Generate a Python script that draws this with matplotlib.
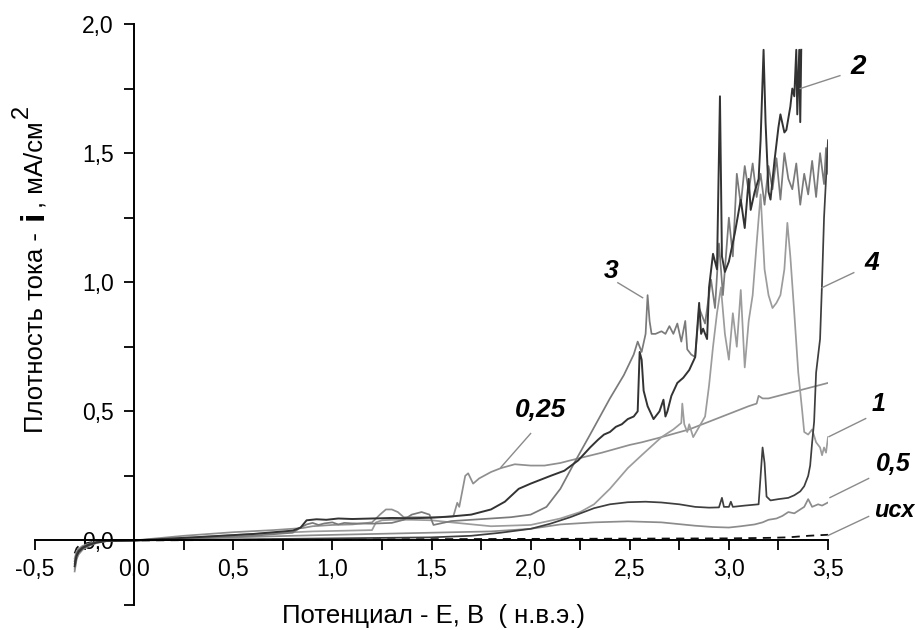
import matplotlib
matplotlib.use("Agg")
import matplotlib.pyplot as plt
from matplotlib.ticker import MultipleLocator, FuncFormatter

plt.rcParams['font.family'] = ['Liberation Sans', 'DejaVu Sans']

# ---- polarisation curves: potential E (V) and current density i (mA/cm2) ----
# cathodic start (E < 0) shared potentials
E_cath = [-0.30, -0.29, -0.28, -0.26, -0.23, -0.19, -0.14]

E_isx = E_cath + [0.0, 0.5, 1.0, 1.5, 2.0, 2.5, 3.0, 3.2, 3.3, 3.4, 3.45, 3.5]
i_isx = [-0.05, -0.03, -0.022, -0.015, -0.009, -0.004, -0.001,
         0.0, 0.002, 0.004, 0.005, 0.006, 0.007, 0.008, 0.010, 0.012, 0.018,
         0.020, 0.022]

E_05 = E_cath + [0.0, 0.3, 0.6, 0.9, 1.2, 1.5, 1.8, 2.0, 2.15, 2.32, 2.49, 2.66,
                 2.83, 2.92, 3.0, 3.06, 3.13, 3.17, 3.2, 3.24, 3.27, 3.3, 3.33,
                 3.36, 3.38, 3.40, 3.42, 3.45, 3.47, 3.5]
i_05 = [-0.12, -0.072, -0.054, -0.036, -0.022, -0.010, -0.003,
        0.0, 0.008, 0.014, 0.020, 0.025, 0.030, 0.035, 0.045, 0.062, 0.070,
        0.074, 0.070, 0.057, 0.052, 0.050, 0.055, 0.062, 0.070, 0.080, 0.085,
        0.095, 0.110, 0.105, 0.120, 0.130, 0.160, 0.130, 0.140, 0.135, 0.147]

E_025 = E_cath + [0.0, 0.25, 0.5, 0.7, 0.85, 0.9, 1.0, 1.1, 1.2, 1.24, 1.27, 1.3,
                  1.33, 1.36, 1.45, 1.55, 1.61, 1.63, 1.64, 1.67, 1.685, 1.71,
                  1.74, 1.8, 1.85, 1.92, 2.0, 2.07, 2.15, 2.2, 2.36, 2.5, 2.56,
                  2.66, 2.8, 2.9, 3.0, 3.1, 3.14, 3.15, 3.17, 3.2, 3.25, 3.3,
                  3.35, 3.4, 3.45, 3.5]
i_025 = [-0.11, -0.066, -0.050, -0.033, -0.020, -0.009, -0.002,
         0.0, 0.018, 0.032, 0.040, 0.048, 0.055, 0.060, 0.062, 0.070, 0.100,
         0.120, 0.120, 0.110, 0.090, 0.090, 0.090, 0.093, 0.146, 0.130, 0.250,
         0.260, 0.220, 0.240, 0.265, 0.280, 0.295, 0.290, 0.290, 0.300, 0.310,
         0.340, 0.370, 0.380, 0.400, 0.430, 0.460, 0.490, 0.520, 0.530, 0.560,
         0.550, 0.550, 0.560, 0.570, 0.580, 0.590, 0.600, 0.610]

E_1 = E_cath + [0.0, 0.3, 0.6, 0.9, 1.2, 1.22, 1.25, 1.3, 1.4, 1.5, 1.6, 1.8, 2.0,
                2.15, 2.25, 2.32, 2.4, 2.49, 2.56, 2.66, 2.72, 2.76, 2.765, 2.775,
                2.79, 2.80, 2.82, 2.85, 2.88, 2.90, 2.92, 2.94, 2.96, 2.98, 3.0,
                3.02, 3.04, 3.06, 3.08, 3.10, 3.12, 3.14, 3.16, 3.18, 3.20, 3.22,
                3.24, 3.26, 3.28, 3.295, 3.31, 3.33, 3.35, 3.37, 3.38, 3.40, 3.42,
                3.44, 3.46, 3.47, 3.48, 3.49, 3.5]
i_1 = [-0.07, -0.042, -0.032, -0.021, -0.013, -0.006, -0.001,
       0.0, 0.012, 0.025, 0.035, 0.040, 0.070, 0.078, 0.080, 0.080, 0.078, 0.070,
       0.055, 0.060, 0.085, 0.110, 0.140, 0.200, 0.280, 0.330, 0.400, 0.430,
       0.455, 0.530, 0.450, 0.420, 0.450, 0.400, 0.440, 0.480, 0.600, 0.750,
       0.880, 0.980, 0.800, 0.700, 0.880, 0.750, 0.970, 0.670, 0.850, 0.950,
       1.150, 1.340, 1.050, 0.950, 0.900, 0.920, 0.950, 1.050, 1.230, 1.100,
       0.880, 0.650, 0.500, 0.420, 0.410, 0.430, 0.380, 0.360, 0.330, 0.360,
       0.340, 0.400]

E_2 = E_cath + [0.0, 0.3, 0.6, 0.8, 0.84, 0.87, 0.92, 0.97, 1.03, 1.1, 1.2, 1.3,
                1.4, 1.5, 1.6, 1.7, 1.8, 1.87, 1.94, 2.0, 2.05, 2.1, 2.17, 2.24,
                2.3, 2.34, 2.37, 2.4, 2.43, 2.46, 2.49, 2.52, 2.54, 2.55, 2.56,
                2.57, 2.59, 2.62, 2.65, 2.67, 2.68, 2.69, 2.71, 2.74, 2.77, 2.80,
                2.83, 2.85, 2.86, 2.87, 2.89, 2.90, 2.92, 2.94, 2.955, 2.965, 2.98,
                3.00, 3.03, 3.06, 3.08, 3.10, 3.11, 3.13, 3.15, 3.16, 3.175, 3.185,
                3.20, 3.21, 3.23, 3.25, 3.26, 3.28, 3.29, 3.31, 3.32, 3.33, 3.34,
                3.345, 3.355, 3.36, 3.365]
i_2 = [-0.10, -0.060, -0.045, -0.030, -0.018, -0.008, -0.002,
       0.0, 0.012, 0.025, 0.038, 0.050, 0.078, 0.082, 0.080, 0.085, 0.083,
       0.085, 0.087, 0.086, 0.088, 0.093, 0.100, 0.120, 0.150, 0.200, 0.220,
       0.235, 0.250, 0.270, 0.310, 0.360, 0.390, 0.410, 0.420, 0.440, 0.450,
       0.470, 0.480, 0.500, 0.730, 0.700, 0.580, 0.520, 0.470, 0.500, 0.545,
       0.480, 0.500, 0.560, 0.610, 0.630, 0.660, 0.710, 0.920, 0.800, 0.820,
       0.780, 0.980, 1.110, 1.050, 1.720, 1.100, 1.040, 1.080, 1.190, 1.320,
       1.210, 1.400, 1.280, 1.350, 1.400, 1.550, 1.900, 1.620, 1.350, 1.320,
       1.470, 1.600, 1.650, 1.580, 1.590, 1.680, 1.750, 1.720, 1.900, 1.650,
       1.900, 1.620, 1.900]

E_3 = E_cath + [0.0, 0.3, 0.6, 0.8, 0.84, 0.87, 0.9, 0.93, 0.96, 1.0, 1.03, 1.06,
                1.1, 1.2, 1.3, 1.36, 1.4, 1.45, 1.49, 1.51, 1.54, 1.6, 1.7, 1.8,
                1.9, 2.0, 2.08, 2.15, 2.22, 2.3, 2.4, 2.47, 2.52, 2.54, 2.56, 2.58,
                2.59, 2.60, 2.61, 2.63, 2.66, 2.68, 2.70, 2.72, 2.74, 2.76, 2.78,
                2.79, 2.81, 2.83, 2.85, 2.88, 2.91, 2.93, 2.95, 2.97, 3.0, 3.02,
                3.04, 3.06, 3.08, 3.10, 3.12, 3.14, 3.16, 3.18, 3.2, 3.22, 3.24,
                3.26, 3.28, 3.30, 3.32, 3.34, 3.36, 3.38, 3.40, 3.42, 3.44, 3.46,
                3.48, 3.49, 3.5]
i_3 = [-0.08, -0.048, -0.036, -0.024, -0.014, -0.006, -0.002,
       0.0, 0.008, 0.018, 0.030, 0.050, 0.062, 0.068, 0.060, 0.066, 0.070,
       0.062, 0.068, 0.066, 0.065, 0.068, 0.080, 0.100, 0.110, 0.100, 0.060,
       0.065, 0.075, 0.080, 0.085, 0.090, 0.100, 0.130, 0.200, 0.300, 0.410,
       0.550, 0.640, 0.720, 0.770, 0.730, 0.800, 0.950, 0.850, 0.800, 0.800,
       0.810, 0.800, 0.830, 0.800, 0.840, 0.770, 0.850, 0.740, 0.720, 0.710,
       0.900, 0.840, 1.010, 0.900, 1.150, 0.950, 1.250, 1.100, 1.420, 1.300,
       1.450, 1.350, 1.460, 1.330, 1.420, 1.300, 1.450, 1.360, 1.480, 1.320,
       1.500, 1.400, 1.360, 1.460, 1.300, 1.420, 1.340, 1.470, 1.330, 1.500,
       1.380, 1.520, 1.420]

E_4 = E_cath + [0.0, 0.5, 1.0, 1.5, 1.7, 1.85, 2.0, 2.1, 2.2, 2.32, 2.4, 2.49,
                2.58, 2.66, 2.75, 2.83, 2.9, 2.95, 2.965, 2.975, 3.0, 3.01, 3.02,
                3.08, 3.15, 3.16, 3.17, 3.18, 3.19, 3.21, 3.25, 3.3, 3.33, 3.36,
                3.38, 3.40, 3.41, 3.42, 3.43, 3.44, 3.46, 3.47, 3.48, 3.49, 3.5]
i_4 = [-0.09, -0.055, -0.040, -0.027, -0.016, -0.007, -0.002,
       0.0, 0.004, 0.008, 0.012, 0.018, 0.030, 0.045, 0.065, 0.090, 0.125,
       0.140, 0.148, 0.150, 0.147, 0.140, 0.130, 0.127, 0.128, 0.165, 0.130,
       0.130, 0.150, 0.130, 0.135, 0.140, 0.250, 0.360, 0.300, 0.170, 0.155,
       0.160, 0.165, 0.175, 0.190, 0.210, 0.250, 0.290, 0.380, 0.460, 0.650,
       0.780, 1.000, 1.250, 1.400, 1.550]

fig = plt.figure(figsize=(9.15, 6.3), dpi=100)
W, H = 915, 630
ax = fig.add_axes([35 / W, 1 - 605 / H, 793 / W, 581 / H])
ax.set_xlim(-0.5, 3.5)
ax.set_ylim(-0.25, 2.0)

lw = 1.25
ax.plot(E_isx, i_isx, color='#111111', lw=1.3, ls=(0, (4.5, 3.5)))
ax.plot(E_05, i_05, color='#8c8c8c', lw=lw)
ax.plot(E_025, i_025, color='#8f8f8f', lw=lw)
ax.plot(E_1, i_1, color='#9c9c9c', lw=lw)
ax.plot(E_3, i_3, color='#7a7a7a', lw=lw)
ax.plot(E_4, i_4, color='#3e3e3e', lw=lw)
ax.plot(E_2, i_2, color='#333333', lw=1.4)

# axes crossing at the origin
for side in ('top', 'right'):
    ax.spines[side].set_visible(False)
ax.spines['left'].set_position(('data', 0))
ax.spines['bottom'].set_position(('data', 0))
for side in ('left', 'bottom'):
    ax.spines[side].set_linewidth(1.4)

comma = FuncFormatter(lambda v, p: f"{v:.1f}".replace('.', ','))
ax.xaxis.set_major_locator(MultipleLocator(0.5))
ax.xaxis.set_minor_locator(MultipleLocator(0.25))
ax.yaxis.set_major_locator(MultipleLocator(0.5))
ax.yaxis.set_minor_locator(MultipleLocator(0.25))
ax.xaxis.set_major_formatter(comma)
ax.yaxis.set_major_formatter(comma)
ax.tick_params(which='both', direction='out', length=7.5, width=1.3,
               labelsize=16.5, colors='black')
ax.tick_params(axis='x', which='major', pad=5)
ax.tick_params(axis='y', which='major', pad=7)

# curve labels with leader lines (data coordinates)
label_specs = [
    ("2", 3.651, 1.806, 20, [3.56, 3.36], [1.80, 1.75]),
    ("3", 2.406, 1.016, 19, [2.44, 2.565], [0.998, 0.940]),
    ("4", 3.722, 1.049, 19, [3.63, 3.47], [1.037, 0.979]),
    ("0,25", 2.048, 0.478, 19, [2.0, 1.85], [0.414, 0.283]),
    ("1", 3.757, 0.501, 18, [3.69, 3.505], [0.472, 0.402]),
    ("0,5", 3.828, 0.269, 18, [3.705, 3.51], [0.240, 0.166]),
    ("исх", 3.833, 0.091, 17, [3.705, 3.50], [0.093, 0.019]),
]
for txt, tx, ty, fs, lx, ly in label_specs:
    ax.text(tx, ty, txt, fontsize=fs, fontweight='bold', fontstyle='italic',
            ha='center', va='baseline', clip_on=False)
    ax.plot(lx, ly, color='#8a8a8a', lw=1.0, clip_on=False)

# x axis title
fig.text(282 / W, 1 - 623 / H, "Потенциал - Е, В  ( н.в.э.)", fontsize=18.5,
         ha='left', va='baseline')

# y axis title assembled from pieces (bold 'i', superscript 2)
renderer = fig.canvas.get_renderer()
pieces = [
    ("Плотность тока -", dict(fontsize=18.5), 0, 12),
    ("i", dict(fontsize=24, fontweight='bold'), 0, 3),
    (", мА/см", dict(fontsize=18.5), 0, 3),
    ("2", dict(fontsize=17), 15, 0),
]
ypos = 433
for txt, kw, dx, gap in pieces:
    t = fig.text((43 - dx) / W, 1 - ypos / H, txt, rotation=90,
                 rotation_mode='anchor', ha='left', va='baseline', **kw)
    bb = t.get_window_extent(renderer=renderer)
    ypos -= bb.height + gap

fig.savefig("out.png", dpi=100)
